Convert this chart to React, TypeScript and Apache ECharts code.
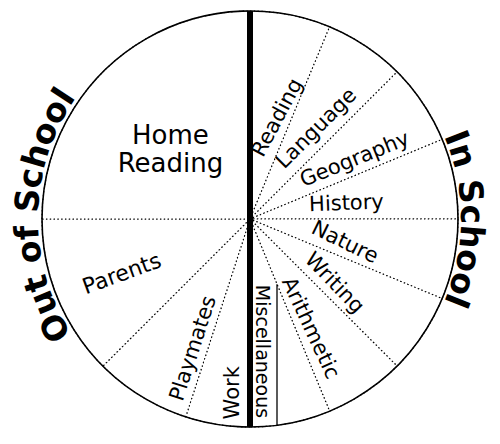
import React, { useEffect, useRef } from 'react';
import * as echarts from 'echarts';

// ---- data ----
const inSchoolSubjects = ['Reading', 'Language', 'Geography', 'History', 'Nature', 'Writing', 'Arithmetic', 'Miscellaneous'];
const inSchoolShares = [22.5, 22.5, 22.5, 22.5, 22.5, 22.5, 22.5, 22.5];
const outSchoolSources = ['Work', 'Playmates', 'Parents', 'Home Reading'];
const outSchoolShares = [18, 27, 45, 90];
const groupTitles = ['In School', 'Out of School'];

// ---- style / layout constants ----
const CX = 250;
const CY = 219;
const R = 208;
// per-label placement: [position within slice (0..1), fraction of radius, rotation deg]
const labelPlacement: number[][] = [
  [0.66, 0.505, 62],
  [0.6, 0.54, 45],
  [0.67, 0.58, 22],
  [0.58, 0.47, 2],
  [0.6, 0.47, -26],
  [0.64, 0.51, -46],
  [0.7, 0.6, -65],
  [0.75, 0.64, -90],
  [0.33, 0.84, 90],
  [0.22, 0.68, 72],
  [0.49, 0.67, 20],
  [0.46, 0.51, 0],
];
const MISC_BOX = 27;
const LABEL_FONT = '"DejaVu Sans", "Noto Sans", sans-serif';

function arcText(text: string, centerDeg: number, rBase: number, fs: number, font: string) {
  const canvas = document.createElement('canvas');
  const ctx = canvas.getContext('2d')!;
  ctx.font = font;
  const chars = Array.from(text);
  const widths = chars.map((c) => ctx.measureText(c).width);
  const W = widths.reduce((s, w) => s + w, 0);
  const a0 = (centerDeg * Math.PI) / 180 - W / rBase / 2;
  const rm = rBase + fs * 0.35;
  let acc = 0;
  const els: any[] = [];
  chars.forEach((ch, i) => {
    const w = widths[i];
    const am = a0 + (acc + w / 2) / rBase;
    acc += w;
    if (ch === ' ') return;
    els.push({
      type: 'text',
      x: CX + rm * Math.sin(am),
      y: CY - rm * Math.cos(am),
      rotation: -am,
      z: 100,
      silent: true,
      style: {
        text: ch,
        font,
        fill: '#000',
        align: 'center',
        verticalAlign: 'middle',
        textAlign: 'center',
        textVerticalAlign: 'middle',
      },
    });
  });
  return els;
}

export default function App() {
  const ref = useRef<HTMLDivElement>(null);
  useEffect(() => {
    const chart = echarts.init(ref.current!, null, { renderer: 'svg' });
    const names = [...inSchoolSubjects, ...outSchoolSources];
    const values = [...inSchoolShares, ...outSchoolShares];
    const total = values.reduce((s, v) => s + v, 0);
    const starts: number[] = [];
    let c = 0;
    values.forEach((v) => {
      starts.push(c);
      c += v;
    });

    // Miscellaneous box edge: starts where the Arithmetic/Miscellaneous boundary crosses it
    const miscIdx = inSchoolSubjects.length - 1;
    const bAngle = (starts[miscIdx] / total) * 2 * Math.PI;
    const yStart = CY + MISC_BOX / Math.tan(Math.PI - bAngle);
    const yEnd = CY + Math.sqrt(R * R - MISC_BOX * MISC_BOX);

    const titleFs = 33;
    const titleFont = `bold ${titleFs}px "DejaVu Sans"`;

    const option: any = {
      animation: false,
      backgroundColor: '#fff',
      series: [
        {
          type: 'pie',
          center: [CX, CY],
          radius: [0, R],
          startAngle: 90,
          clockwise: true,
          silent: true,
          avoidLabelOverlap: false,
          emphasis: { disabled: true },
          itemStyle: {
            color: '#fff',
            borderColor: '#000',
            borderWidth: 1.1,
            borderType: [1.4, 2.4],
          },
          label: {
            show: true,
            position: 'inside',
            color: '#000',
            fontFamily: LABEL_FONT,
            fontSize: 21,
            textBorderWidth: 0,
            formatter: (p: any) => (p.name === 'Home Reading' ? 'Home\nReading' : p.name),
          },
          labelLine: { show: false },
          labelLayout: (p: any) => {
            const i = p.dataIndex;
            const [af, rf, rot] = labelPlacement[i];
            const a = ((starts[i] + af * values[i]) / total) * 2 * Math.PI;
            const r = rf * R;
            return { x: CX + r * Math.sin(a), y: CY - r * Math.cos(a), rotate: rot };
          },
          data: names.map((n, i) => ({
            name: n,
            value: values[i],
            label:
              n === 'Home Reading'
                ? { fontSize: 26, lineHeight: 28 }
                : n === 'Miscellaneous'
                ? { fontSize: 19 }
                : n === 'Parents'
                ? { fontSize: 22 }
                : undefined,
          })),
        },
      ],
      graphic: [
        {
          type: 'circle',
          z: 100,
          silent: true,
          shape: { cx: CX, cy: CY, r: R },
          style: { fill: 'none', stroke: '#000', lineWidth: 1.6 },
        },
        {
          type: 'line',
          z: 101,
          silent: true,
          shape: { x1: CX, y1: CY - R, x2: CX, y2: CY + R },
          style: { stroke: '#000', lineWidth: 6 },
        },
        {
          type: 'line',
          z: 100,
          silent: true,
          shape: { x1: CX + MISC_BOX, y1: yStart, x2: CX + MISC_BOX, y2: yEnd },
          style: { stroke: '#000', lineWidth: 1.3 },
        },
        ...arcText(groupTitles[0], 90, R + 3, titleFs, titleFont),
        ...arcText(groupTitles[1], 271, R + 4, titleFs, titleFont),
      ],
    };
    chart.setOption(option);
    return () => chart.dispose();
  }, []);
  return (
    <div
      ref={ref}
      style={{ position: 'absolute', left: 0, top: 0, width: 500, height: 444, background: '#fff' }}
    />
  );
}
